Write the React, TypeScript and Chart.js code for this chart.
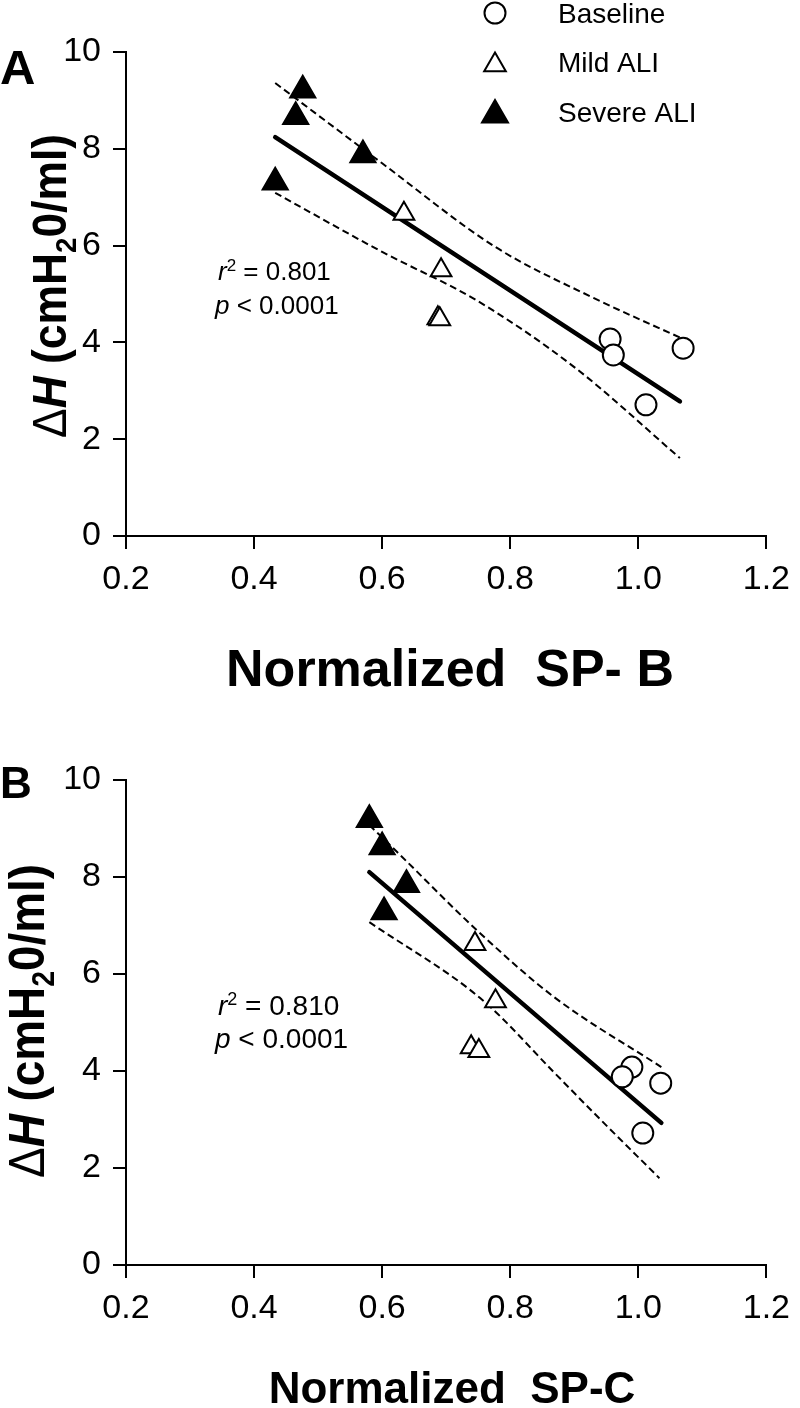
import React, { useEffect, useRef } from 'react';
import { Chart, registerables } from 'chart.js';

Chart.register(...registerables);

const FONT = '"Liberation Sans", Arial, Helvetica, sans-serif';

// ---------- Axis ticks ----------
const X_TICKS = [0.2, 0.4, 0.6, 0.8, 1.0, 1.2];
const Y_TICKS = [0, 2, 4, 6, 8, 10];

// ---------- Legend labels ----------
const LEGEND_LABELS = ['Baseline', 'Mild ALI', 'Severe ALI'];

// ---------- Panel A : Normalized SP-B ----------
const A_BASELINE_X = [0.956, 0.961, 1.07, 1.012];
const A_BASELINE_Y = [4.07, 3.74, 3.88, 2.71];
const A_MILD_X = [0.634, 0.692, 0.687, 0.69];
const A_MILD_Y = [6.66, 5.49, 4.5, 4.48];
const A_SEVERE_X = [0.433, 0.476, 0.465, 0.57];
const A_SEVERE_Y = [7.31, 9.21, 8.66, 7.87];
const A_FIT_X = [0.433, 1.065];
const A_FIT_Y = [8.24, 2.78];
const A_UPPER_X = [0.433, 0.6, 0.777, 0.93, 1.065];
const A_UPPER_Y = [9.36, 7.7, 5.97, 4.92, 4.1];
const A_LOWER_X = [0.433, 0.6, 0.746, 0.9, 1.065];
const A_LOWER_Y = [7.09, 5.87, 4.88, 3.49, 1.61];
const A_LABEL = 'A';
const A_X_TITLE = 'Normalized  SP- B';
const A_R2 = ' = 0.801';
const A_P = ' < 0.0001';

// ---------- Panel B : Normalized SP-C ----------
const B_BASELINE_X = [0.99, 0.975, 1.035, 1.007];
const B_BASELINE_Y = [4.08, 3.88, 3.75, 2.72];
const B_MILD_X = [0.745, 0.777, 0.739, 0.751];
const B_MILD_Y = [6.62, 5.44, 4.49, 4.41];
const B_SEVERE_X = [0.58, 0.6, 0.638, 0.603];
const B_SEVERE_Y = [9.18, 8.62, 7.84, 7.28];
const B_FIT_X = [0.58, 1.036];
const B_FIT_Y = [8.1, 2.93];
const B_UPPER_X = [0.58, 0.623, 0.749, 0.868, 1.036];
const B_UPPER_Y = [9.07, 8.52, 6.89, 5.53, 4.08];
const B_LOWER_X = [0.58, 0.757, 0.87, 0.931, 1.033];
const B_LOWER_Y = [7.07, 5.46, 3.95, 3.13, 1.79];
const B_LABEL = 'B';
const B_X_TITLE = 'Normalized  SP-C';
const B_R2 = ' = 0.810';
const B_P = ' < 0.0001';

const Y_TITLE_PARTS = { delta: 'Δ', h: 'H', mid: ' (cmH', sub: '2', end: '0/ml)' };

const zip = (xs: number[], ys: number[]) => xs.map((x, i) => ({ x, y: ys[i] }));

type Deco = {
  label: string; labelSize: number; labelY: number;
  yTitleX: number; yTitleY: number; yTitleSize: number; yTitleLen: number;
  xTitle: string; xTitleX: number; xTitleY: number; xTitleSize: number;
  r2: string; p: string; statX: number; statY1: number; statY2: number; statSize: number;
  legend: boolean;
};

function drawTriangle(ctx: CanvasRenderingContext2D, x: number, y: number, r: number, filled: boolean) {
  ctx.beginPath();
  let rad = 0;
  ctx.moveTo(x + Math.sin(rad) * r, y - Math.cos(rad) * r);
  rad += (2 * Math.PI) / 3;
  ctx.lineTo(x + Math.sin(rad) * r, y - Math.cos(rad) * r);
  rad += (2 * Math.PI) / 3;
  ctx.lineTo(x + Math.sin(rad) * r, y - Math.cos(rad) * r);
  ctx.closePath();
  ctx.fillStyle = filled ? '#000' : '#fff';
  ctx.fill();
  ctx.lineWidth = 2;
  ctx.strokeStyle = '#000';
  ctx.stroke();
}

const decoPlugin = {
  id: 'deco',
  afterDraw(chart: any) {
    const d: Deco = chart.options.plugins.deco;
    if (!d) return;
    const ctx: CanvasRenderingContext2D = chart.ctx;
    ctx.save();
    ctx.fillStyle = '#000';
    ctx.textBaseline = 'alphabetic';

    // panel label
    ctx.textAlign = 'left';
    ctx.font = `bold ${d.labelSize}px ${FONT}`;
    ctx.fillText(d.label, 0, d.labelY);

    // x title
    ctx.textAlign = 'center';
    ctx.font = `bold ${d.xTitleSize}px ${FONT}`;
    ctx.fillText(d.xTitle, d.xTitleX, d.xTitleY);

    // y title (rotated, mixed styles, fitted to length)
    const s = d.yTitleSize;
    const subS = Math.round(s * 0.62);
    const segs: [string, string, number][] = [
      [Y_TITLE_PARTS.delta, `${s}px ${FONT}`, 0],
      [Y_TITLE_PARTS.h, `italic bold ${s}px ${FONT}`, 0],
      [Y_TITLE_PARTS.mid, `bold ${s}px ${FONT}`, 0],
      [Y_TITLE_PARTS.sub, `bold ${subS}px ${FONT}`, s * 0.2],
      [Y_TITLE_PARTS.end, `bold ${s}px ${FONT}`, 0],
    ];
    let total = 0;
    segs.forEach(([t, f]) => { ctx.font = f; total += ctx.measureText(t).width; });
    ctx.save();
    ctx.translate(d.yTitleX, d.yTitleY);
    ctx.rotate(-Math.PI / 2);
    ctx.scale(d.yTitleLen / total, 1);
    ctx.textAlign = 'left';
    let cx = 0;
    segs.forEach(([t, f, dy]) => {
      ctx.font = f;
      ctx.fillText(t, cx, dy);
      cx += ctx.measureText(t).width;
    });
    ctx.restore();

    // statistics
    ctx.textAlign = 'left';
    const ss = d.statSize;
    let sx = d.statX;
    ctx.font = `italic ${ss}px ${FONT}`;
    ctx.fillText('r', sx, d.statY1);
    sx += ctx.measureText('r').width;
    ctx.font = `${Math.round(ss * 0.66)}px ${FONT}`;
    ctx.fillText('2', sx, d.statY1 - ss * 0.36);
    sx += ctx.measureText('2').width;
    ctx.font = `${ss}px ${FONT}`;
    ctx.fillText(d.r2, sx, d.statY1);
    sx = d.statX - 3;
    ctx.font = `italic ${ss}px ${FONT}`;
    ctx.fillText('p', sx, d.statY2);
    sx += ctx.measureText('p').width;
    ctx.font = `${ss}px ${FONT}`;
    ctx.fillText(d.p, sx, d.statY2);

    // legend
    if (d.legend) {
      const mx = 495;
      const rows = [13, 62, 112];
      ctx.beginPath();
      ctx.arc(mx, rows[0], 10.5, 0, Math.PI * 2);
      ctx.fillStyle = '#fff';
      ctx.fill();
      ctx.lineWidth = 2;
      ctx.strokeStyle = '#000';
      ctx.stroke();
      drawTriangle(ctx, mx, rows[1] + 3, 12.5, false);
      drawTriangle(ctx, mx, rows[2] + 3, 15, true);
      ctx.fillStyle = '#000';
      ctx.font = `28px ${FONT}`;
      ctx.textAlign = 'left';
      ctx.textBaseline = 'middle';
      LEGEND_LABELS.forEach((t, i) => ctx.fillText(t, 558, rows[i] + 2));
    }
    ctx.restore();
  },
};

type Panel = {
  baseX: number[]; baseY: number[]; mildX: number[]; mildY: number[];
  sevX: number[]; sevY: number[]; fitX: number[]; fitY: number[];
  upX: number[]; upY: number[]; loX: number[]; loY: number[];
  top: number; xAxisH: number; deco: Deco;
};

function makeConfig(p: Panel): any {
  const lineBase = { showLine: true, pointRadius: 0, borderColor: '#000', fill: false, order: 1 };
  return {
    type: 'scatter',
    data: {
      datasets: [
        {
          label: LEGEND_LABELS[0], data: zip(p.baseX, p.baseY), pointStyle: 'circle',
          pointRadius: 10.5, pointBorderWidth: 2, pointBorderColor: '#000', pointBackgroundColor: '#fff', order: 0,
        },
        {
          label: LEGEND_LABELS[1], data: zip(p.mildX, p.mildY), pointStyle: 'triangle',
          pointRadius: 12, pointBorderWidth: 2, pointBorderColor: '#000', pointBackgroundColor: '#fff', order: 0,
        },
        {
          label: LEGEND_LABELS[2], data: zip(p.sevX, p.sevY), pointStyle: 'triangle',
          pointRadius: 14.5, pointBorderWidth: 2, pointBorderColor: '#000', pointBackgroundColor: '#000', order: 0,
        },
        { ...lineBase, label: 'fit', data: zip(p.fitX, p.fitY), borderWidth: 4.5, borderCapStyle: 'round' },
        { ...lineBase, label: 'upper 95% CI', data: zip(p.upX, p.upY), borderWidth: 2, borderDash: [7, 4], cubicInterpolationMode: 'monotone' },
        { ...lineBase, label: 'lower 95% CI', data: zip(p.loX, p.loY), borderWidth: 2, borderDash: [7, 4], cubicInterpolationMode: 'monotone' },
      ],
    },
    options: {
      animation: false,
      responsive: false,
      devicePixelRatio: 1,
      layout: { padding: { left: 0, right: 26, top: p.top, bottom: 0 } },
      plugins: { legend: { display: false }, tooltip: { enabled: false }, deco: p.deco },
      scales: {
        x: {
          type: 'linear', min: 0.2, max: 1.2,
          afterBuildTicks: (s: any) => { s.ticks = X_TICKS.map((v) => ({ value: v })); },
          afterFit: (s: any) => { s.height = p.xAxisH; },
          ticks: {
            callback: (v: number) => Number(v).toFixed(1), color: '#000', padding: 10,
            font: { size: 34, family: FONT }, maxRotation: 0, autoSkip: false,
          },
          grid: { drawOnChartArea: false, drawTicks: true, tickLength: 13, color: '#000', lineWidth: 2 },
          border: { display: true, color: '#000', width: 2 },
        },
        y: {
          type: 'linear', min: 0, max: 10,
          afterBuildTicks: (s: any) => { s.ticks = Y_TICKS.map((v) => ({ value: v })); },
          afterFit: (s: any) => { s.width = 126; },
          ticks: { color: '#000', padding: 12, font: { size: 34, family: FONT }, autoSkip: false },
          grid: { drawOnChartArea: false, drawTicks: true, tickLength: 13, color: '#000', lineWidth: 2 },
          border: { display: true, color: '#000', width: 2 },
        },
      },
    },
    plugins: [decoPlugin],
  };
}

const PANEL_A: Panel = {
  baseX: A_BASELINE_X, baseY: A_BASELINE_Y, mildX: A_MILD_X, mildY: A_MILD_Y,
  sevX: A_SEVERE_X, sevY: A_SEVERE_Y, fitX: A_FIT_X, fitY: A_FIT_Y,
  upX: A_UPPER_X, upY: A_UPPER_Y, loX: A_LOWER_X, loY: A_LOWER_Y,
  top: 52, xAxisH: 168,
  deco: {
    label: A_LABEL, labelSize: 49, labelY: 84,
    yTitleX: 66, yTitleY: 438, yTitleSize: 48, yTitleLen: 304,
    xTitle: A_X_TITLE, xTitleX: 450, xTitleY: 686, xTitleSize: 52,
    r2: A_R2, p: A_P, statX: 218, statY1: 280, statY2: 314, statSize: 26,
    legend: true,
  },
};

const PANEL_B: Panel = {
  baseX: B_BASELINE_X, baseY: B_BASELINE_Y, mildX: B_MILD_X, mildY: B_MILD_Y,
  sevX: B_SEVERE_X, sevY: B_SEVERE_Y, fitX: B_FIT_X, fitY: B_FIT_Y,
  upX: B_UPPER_X, upY: B_UPPER_Y, loX: B_LOWER_X, loY: B_LOWER_Y,
  top: 76, xAxisH: 143,
  deco: {
    label: B_LABEL, labelSize: 44, labelY: 94,
    yTitleX: 44, yTitleY: 474, yTitleSize: 50, yTitleLen: 314,
    xTitle: B_X_TITLE, xTitleX: 452, xTitleY: 699, xTitleSize: 44,
    r2: B_R2, p: B_P, statX: 218, statY1: 311, statY2: 344, statSize: 28,
    legend: false,
  },
};

function PanelChart({ panel, top }: { panel: Panel; top: number }) {
  const ref = useRef<HTMLCanvasElement | null>(null);
  useEffect(() => {
    if (!ref.current) return;
    const chart = new Chart(ref.current, makeConfig(panel));
    return () => chart.destroy();
  }, [panel]);
  return (
    <canvas
      ref={ref}
      width={800}
      height={704}
      style={{ position: 'absolute', left: 0, top, width: 800, height: 704, display: 'block' }}
    />
  );
}

export default function App() {
  return (
    <div style={{ position: 'absolute', left: 0, top: 0, width: 800, height: 1408, background: '#fff' }}>
      <PanelChart panel={PANEL_A} top={0} />
      <PanelChart panel={PANEL_B} top={704} />
    </div>
  );
}
